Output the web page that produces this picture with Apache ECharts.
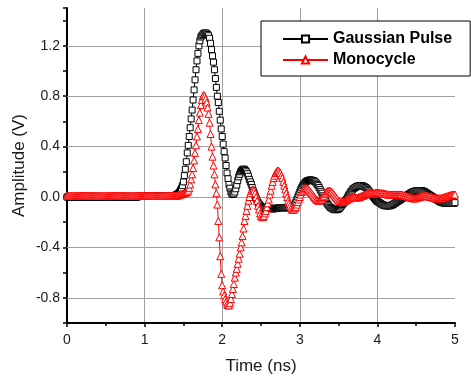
<!DOCTYPE html>
<html>
<head>
<meta charset="utf-8">
<script src="https://cdn.jsdelivr.net/npm/echarts@6/dist/echarts.min.js"></script>
<style>
html,body{margin:0;padding:0;background:#fff;}
#chart{width:471px;height:376px;}
</style>
</head>
<body>
<div id="chart"></div>
<script>
// Sampling step of the recorded waveforms (ns)
const timeStep = 0.0125;

// Gaussian Pulse amplitude (V), one value per sample from 0 to 5 ns
const gaussianPulse = [
0,0,0,0,0,0,0,0,0,0,
0,0,0,0,0,0,0,0,0,0,
0,0,0,0,0,0,0,0,0,0,
0,0,0,0,0,0,0,0,0,0,
0,0,0,0,0,0,0,0,0,0,
0,0,0,0,0,0,0,0,0,0,
0,0,0,0,0,0,0,0,0,0,
0,0,0,0,0.01,0.01,0.01,0.01,0.01,0.01,
0.01,0.01,0.01,0.01,0.01,0.01,0.01,0.01,0.01,0.01,
0.01,0.01,0.01,0.01,0.01,0.01,0.01,0.01,0.01,0.01,
0.01,0.01,0.01,0.01,0.01,0.01,0.01,0.01,0.01,0.01,
0.01,0.01,0.015,0.02,0.025,0.03,0.04,0.055,0.07,0.09,
0.12,0.17,0.22,0.28,0.35,0.41,0.48,0.55,0.62,0.69,
0.77,0.85,0.93,1.01,1.08,1.14,1.20,1.24,1.27,1.28,
1.29,1.30,1.30,1.30,1.30,1.29,1.28,1.26,1.22,1.17,
1.12,1.07,1.01,0.94,0.87,0.80,0.75,0.68,0.61,0.54,
0.48,0.42,0.36,0.31,0.25,0.19,0.145,0.10,0.07,0.04,
0.025,0.02,0.025,0.04,0.065,0.095,0.13,0.16,0.18,0.20,
0.21,0.22,0.22,0.22,0.21,0.20,0.185,0.165,0.14,0.12,
0.10,0.075,0.05,0.03,0.01,-0.01,-0.03,-0.045,-0.055,-0.065,
-0.075,-0.08,-0.085,-0.085,-0.09,-0.09,-0.09,-0.09,-0.09,-0.09,
-0.09,-0.09,-0.095,-0.095,-0.09,-0.09,-0.09,-0.09,-0.085,-0.085,
-0.085,-0.085,-0.085,-0.085,-0.085,-0.085,-0.085,-0.085,-0.085,-0.085,
-0.085,-0.085,-0.085,-0.08,-0.07,-0.055,-0.04,-0.02,0.0,0.02,
0.04,0.06,0.075,0.09,0.10,0.11,0.12,0.125,0.13,0.13,
0.135,0.135,0.135,0.13,0.13,0.125,0.12,0.11,0.10,0.09,
0.075,0.06,0.045,0.03,0.01,-0.005,-0.02,-0.035,-0.05,-0.06,
-0.07,-0.08,-0.085,-0.09,-0.095,-0.1,-0.1,-0.1,-0.1,-0.1,
-0.095,-0.09,-0.08,-0.07,-0.06,-0.05,-0.04,-0.03,-0.02,-0.005,
0.01,0.02,0.035,0.045,0.055,0.065,0.07,0.075,0.08,0.085,
0.085,0.09,0.09,0.09,0.09,0.085,0.085,0.08,0.075,0.07,
0.06,0.05,0.04,0.03,0.02,0.01,0.0,-0.01,-0.02,-0.03,
-0.035,-0.04,-0.045,-0.05,-0.055,-0.06,-0.065,-0.065,-0.07,-0.07,
-0.07,-0.07,-0.07,-0.07,-0.065,-0.065,-0.06,-0.055,-0.05,-0.045,
-0.04,-0.035,-0.03,-0.025,-0.02,-0.015,-0.01,-0.005,0.0,0.005,
0.01,0.015,0.02,0.025,0.03,0.035,0.04,0.04,0.045,0.045,
0.05,0.05,0.05,0.05,0.05,0.05,0.05,0.045,0.045,0.04,
0.035,0.03,0.025,0.02,0.015,0.01,0.005,0.0,-0.005,-0.01,
-0.015,-0.02,-0.025,-0.03,-0.035,-0.04,-0.04,-0.045,-0.045,-0.05,
-0.05,-0.05,-0.05,-0.05,-0.05,-0.05,-0.05,-0.05,-0.05,-0.05,
-0.045
];

// Monocycle amplitude (V), one value per sample from 0 to 5 ns
const monocycle = [
0.01,0.01,0.01,0.01,0.01,0.01,0.01,0.01,0.01,0.01,
0.01,0.01,0.01,0.01,0.01,0.01,0.01,0.01,0.01,0.01,
0.01,0.01,0.01,0.01,0.01,0.01,0.01,0.01,0.01,0.01,
0.01,0.01,0.01,0.01,0.01,0.01,0.01,0.01,0.01,0.01,
0.01,0.01,0.01,0.01,0.01,0.01,0.01,0.01,0.01,0.01,
0.01,0.01,0.01,0.01,0.01,0.01,0.01,0.01,0.01,0.01,
0.01,0.01,0.01,0.01,0.01,0.01,0.01,0.01,0.01,0.01,
0.01,0.01,0.01,0.01,0.01,0.01,0.01,0.01,0.01,0.01,
0.01,0.01,0.01,0.01,0.01,0.01,0.01,0.01,0.01,0.01,
0.01,0.01,0.01,0.01,0.01,0.01,0.01,0.01,0.01,0.01,
0.01,0.01,0.01,0.01,0.01,0.01,0.01,0.01,0.01,0.01,
0.01,0.01,0.01,0.01,0.012,0.015,0.018,0.02,0.022,0.025,
0.028,0.03,0.033,0.036,0.04,0.05,0.07,0.10,0.14,0.18,
0.23,0.29,0.35,0.41,0.48,0.54,0.61,0.67,0.73,0.77,
0.80,0.81,0.80,0.78,0.75,0.71,0.66,0.59,0.50,0.40,
0.32,0.25,0.18,0.10,0.03,-0.06,-0.19,-0.32,-0.47,-0.61,
-0.70,-0.75,-0.78,-0.81,-0.83,-0.85,-0.86,-0.86,-0.84,-0.81,
-0.77,-0.73,-0.69,-0.64,-0.60,-0.57,-0.53,-0.49,-0.45,-0.40,
-0.36,-0.31,-0.25,-0.19,-0.15,-0.11,-0.07,-0.03,0.0,0.03,
0.05,0.06,0.06,0.05,0.03,0.0,-0.03,-0.07,-0.10,-0.13,
-0.15,-0.16,-0.16,-0.15,-0.13,-0.11,-0.08,-0.05,-0.02,0.02,
0.05,0.09,0.12,0.15,0.17,0.19,0.20,0.21,0.21,0.20,
0.19,0.17,0.15,0.12,0.09,0.06,0.03,0.0,-0.03,-0.05,
-0.07,-0.09,-0.10,-0.10,-0.10,-0.09,-0.08,-0.06,-0.04,-0.02,
0.0,0.02,0.04,0.05,0.06,0.07,0.07,0.07,0.065,0.06,
0.05,0.04,0.03,0.02,0.01,0.0,-0.01,-0.02,-0.025,-0.03,
-0.03,-0.025,-0.02,-0.01,0.0,0.01,0.025,0.035,0.045,0.05,
0.05,0.05,0.045,0.04,0.03,0.02,0.01,0.0,-0.01,-0.02,
-0.03,-0.035,-0.04,-0.04,-0.04,-0.04,-0.035,-0.03,-0.025,-0.02,
-0.015,-0.01,-0.01,-0.005,-0.005,0.0,0.0,0.0,-0.005,-0.005,
-0.005,0.0,0.0,0.005,0.01,0.01,0.015,0.02,0.02,0.025,
0.025,0.03,0.03,0.03,0.03,0.03,0.03,0.03,0.035,0.035,
0.035,0.035,0.035,0.03,0.03,0.03,0.03,0.025,0.025,0.025,
0.02,0.02,0.02,0.02,0.02,0.02,0.02,0.02,0.02,0.02,
0.02,0.02,0.02,0.02,0.02,0.02,0.015,0.015,0.01,0.01,
0.005,0.005,0.0,0.0,-0.005,-0.005,-0.01,-0.01,-0.01,-0.01,
-0.01,-0.005,-0.005,0.0,0.0,0.005,0.005,0.01,0.01,0.01,
0.01,0.01,0.005,0.005,0.0,0.0,0.0,-0.005,-0.005,-0.01,
-0.01,-0.01,-0.01,-0.01,-0.01,-0.01,-0.01,-0.005,-0.005,0.0,
0.0,0.005,0.005,0.01,0.01,0.015,0.015,0.02,0.02,0.02,
0.02
];

// Axis tick labels
const xTickLabels = [0, 1, 2, 3, 4, 5];
const yTickLabels = [-0.8, -0.4, 0.0, 0.4, 0.8, 1.2];

const seriesNames = ['Gaussian Pulse', 'Monocycle'];

const FONT = 'Liberation Sans, Arial, sans-serif';

function toPairs(values) {
  return values.map((v, i) => [i * timeStep, v]);
}

const chart = echarts.init(document.getElementById('chart'), null, {renderer: 'canvas'});

const gridColor = '#a0a0a0';

chart.setOption({
  animation: false,
  backgroundColor: '#ffffff',
  grid: {left: 67, right: 16, top: 8, bottom: 53, containLabel: false, outerBoundsMode: 'none'},
  legend: {
    data: seriesNames,
    orient: 'vertical',
    left: 261,
    top: 21,
    padding: [10, 18, 8, 21],
    itemWidth: 45,
    itemHeight: 9,
    itemGap: 5,
    borderColor: '#000',
    borderWidth: 1,
    backgroundColor: '#fff',
    borderRadius: 0,
    selectedMode: false,
    textStyle: {fontFamily: FONT, fontSize: 16, fontWeight: 'bold', color: '#000', lineHeight: 16}
  },
  xAxis: {
    type: 'value',
    min: xTickLabels[0],
    max: xTickLabels[xTickLabels.length - 1],
    interval: 1,
    name: 'Time (ns)',
    nameLocation: 'middle',
    nameGap: 35,
    nameMoveOverlap: false,
    nameTextStyle: {fontFamily: FONT, fontSize: 17, color: '#1a1a1a'},
    axisLine: {show: true, onZero: false, lineStyle: {color: '#000', width: 2}},
    axisTick: {show: true, inside: false, length: 4, lineStyle: {color: '#000', width: 1.5}},
    minorTick: {show: true, splitNumber: 2, length: 3, lineStyle: {color: '#000', width: 1.5}},
    axisLabel: {fontFamily: FONT, fontSize: 14, color: '#1a1a1a', margin: 10},
    splitLine: {show: true, showMinLine: false, showMaxLine: false, lineStyle: {color: gridColor, width: 1}}
  },
  yAxis: {
    type: 'value',
    min: -1.0,
    max: 1.5,
    interval: 0.2,
    name: 'Amplitude (V)',
    nameLocation: 'middle',
    nameGap: 39,
    nameMoveOverlap: false,
    nameTextStyle: {fontFamily: FONT, fontSize: 17, color: '#1a1a1a'},
    axisLine: {show: true, onZero: false, lineStyle: {color: '#000', width: 2}},
    axisTick: {show: true, inside: false, length: 4, lineStyle: {color: '#000', width: 1.5}},
    axisLabel: {
      fontFamily: FONT, fontSize: 14, color: '#1a1a1a', margin: 7,
      showMinLabel: true, showMaxLabel: true,
      formatter: function (val) {
        const r = Math.round(val * 10) / 10;
        for (const t of yTickLabels) {
          if (Math.abs(t - r) < 1e-6) return (r === 0 ? 0 : r).toFixed(1);
        }
        return '';
      }
    },
    splitLine: {show: false}
  },
  series: [
    {
      type: 'line',
      data: [],
      z: 1,
      silent: true,
      markLine: {
        silent: true,
        z: 1,
        symbol: ['none', 'none'],
        label: {show: false},
        lineStyle: {color: gridColor, width: 1, type: 'solid'},
        emphasis: {disabled: true},
        data: yTickLabels.map(v => ({yAxis: v}))
      }
    },
    {
      name: seriesNames[0],
      type: 'line',
      data: toPairs(gaussianPulse),
      z: 3,
      silent: true,
      symbol: 'rect',
      symbolSize: 6,
      showSymbol: true,
      showAllSymbol: true,
      lineStyle: {color: '#000', width: 1},
      itemStyle: {color: '#fff', borderColor: '#000', borderWidth: 1},
      emphasis: {disabled: true}
    },
    {
      name: seriesNames[1],
      type: 'line',
      data: toPairs(monocycle),
      z: 4,
      silent: true,
      symbol: 'triangle',
      symbolSize: [7, 7],
      showSymbol: true,
      showAllSymbol: true,
      lineStyle: {color: '#ff0000', width: 1},
      itemStyle: {color: '#fff', borderColor: '#ff0000', borderWidth: 1},
      emphasis: {disabled: true}
    }
  ]
});
</script>
</body>
</html>
